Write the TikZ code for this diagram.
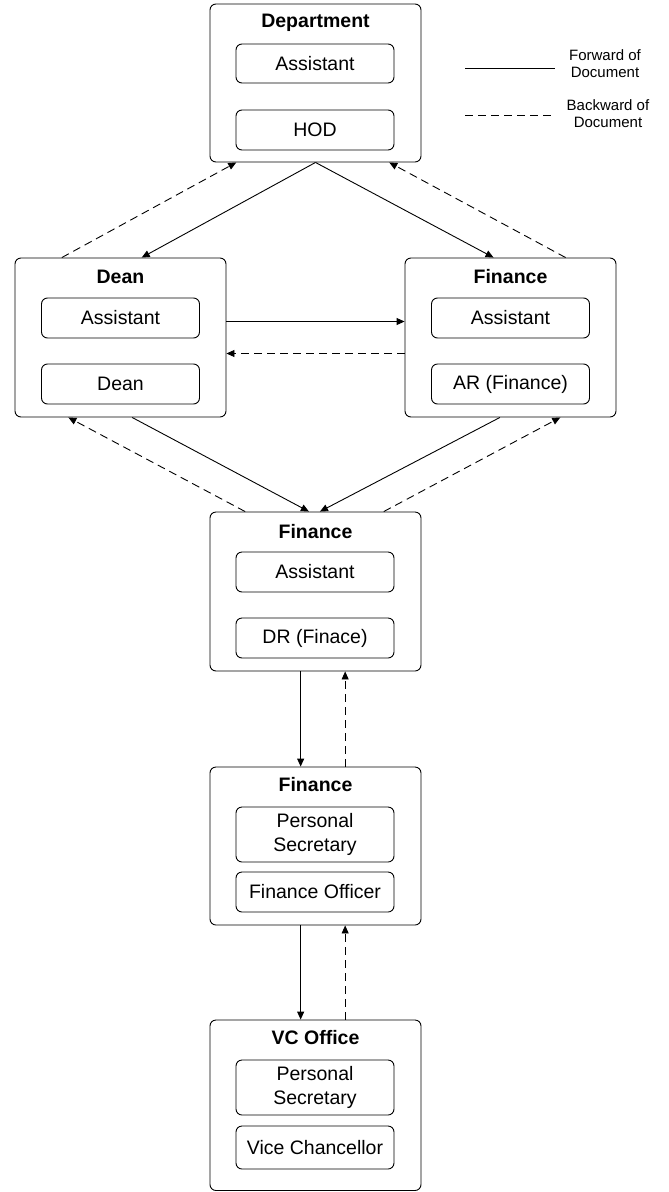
\documentclass[tikz,border=0pt]{standalone}
\usepackage{fontspec}
\setmainfont{Liberation Sans}
\usetikzlibrary{arrows.meta,calc}
\begin{document}
\begin{tikzpicture}[x=1pt,y=-1pt,
  outer/.style={draw,rounded corners=6pt,line width=0.9pt,minimum width=211pt,inner sep=0pt},
  inbox/.style={draw,rounded corners=6pt,line width=0.9pt,minimum width=158pt,inner sep=0pt,align=center,font=\fontsize{19.5}{24}\selectfont},
  ttl/.style={font=\bfseries\fontsize{19.5}{24}\selectfont,inner sep=0pt},
  legtext/.style={align=center,font=\fontsize{15}{17}\selectfont,inner sep=0pt},
  fwd/.style={line width=0.9pt,-{Triangle[length=8pt,width=7pt]}},
  bwd/.style={line width=0.9pt,dash pattern=on 8pt off 5pt,-{Triangle[length=8pt,width=7pt]}},
]
\useasboundingbox (0,0) rectangle (669,1192);

% Department
\node[outer,minimum height=158pt] (dept) at (315.5,83) {};
\node[ttl] (deptT) at (315.5,23) {Department};
\node[inbox,minimum height=39pt] (deptA) at (315,63.5) {Assistant};
\node[inbox,minimum height=40pt] (deptH) at (315,130) {HOD};

% Dean
\node[outer,minimum height=159pt] (deanB) at (120.5,337.5) {};
\node[ttl] (deanT) at (120.5,277) {Dean};
\node[inbox,minimum height=40pt] (deanA) at (120.5,318) {Assistant};
\node[inbox,minimum height=40pt] (deanD) at (120.5,384) {Dean};

% Finance right
\node[outer,minimum height=159pt] (finR) at (510.5,337.5) {};
\node[ttl] (finRT) at (510.5,277) {Finance};
\node[inbox,minimum height=40pt] (finRA) at (510.5,318) {Assistant};
\node[inbox,minimum height=40pt] (finRAR) at (510.5,384) {AR (Finance)};

% Finance middle
\node[outer,minimum height=159pt] (finM) at (315.5,591.5) {};
\node[ttl] (finMT) at (315.5,532) {Finance};
\node[inbox,minimum height=40pt] (finMA) at (315,572) {Assistant};
\node[inbox,minimum height=40pt] (finMD) at (315,638) {DR (Finace)};

% Finance 4
\node[outer,minimum height=158pt] (fin4) at (315.5,846) {};
\node[ttl] (fin4T) at (315.5,785) {Finance};
\node[inbox,minimum height=55pt] (fin4P) at (315,834.5) {Personal\\Secretary};
\node[inbox,minimum height=40pt] (fin4F) at (315,892) {Finance Officer};

% VC Office
\node[outer,minimum height=170.5pt] (vc) at (315.5,1105.25) {};
\node[ttl] (vcT) at (315.5,1038) {VC Office};
\node[inbox,minimum height=55pt] (vcP) at (315,1087.5) {Personal\\Secretary};
\node[inbox,minimum height=43pt] (vcV) at (315,1147.5) {Vice Chancellor};

% Legend
\coordinate (l1a) at (465,68);
\coordinate (l1b) at (555,68);
\coordinate (l2a) at (465,115);
\coordinate (l2b) at (555,115);
\draw[line width=0.9pt] (l1a) -- (l1b);
\draw[line width=0.9pt,dash pattern=on 8pt off 5pt] (l2a) -- (l2b);
\node[legtext] (legF) at (605,63.5) {Forward of\\Document};
\node[legtext] (legB) at (608,114) {Backward of\\Document};

% Connectors
\draw[fwd] (dept.south) -- ($(deanB.north west)!0.6!(deanB.north east)$);
\draw[fwd] (dept.south) -- ($(finR.north west)!0.42!(finR.north east)$);
\draw[bwd] ($(deanB.north west)!0.223!(deanB.north east)$) -- ($(dept.south west)!0.126!(dept.south east)$);
\draw[bwd] ($(finR.north west)!0.76!(finR.north east)$) -- ($(dept.south west)!0.848!(dept.south east)$);

\draw[fwd] ($(deanB.north east)!0.4!(deanB.south east)$) -- ($(finR.north west)!0.4!(finR.south west)$);
\draw[bwd] ($(finR.north west)!0.6!(finR.south west)$) -- ($(deanB.north east)!0.6!(deanB.south east)$);

\draw[fwd] ($(deanB.south west)!0.555!(deanB.south east)$) -- ($(finM.north west)!0.469!(finM.north east)$);
\draw[fwd] ($(finR.south west)!0.45!(finR.south east)$) -- ($(finM.north west)!0.521!(finM.north east)$);
\draw[bwd] ($(finM.north west)!0.168!(finM.north east)$) -- ($(deanB.south west)!0.254!(deanB.south east)$);
\draw[bwd] ($(finM.north west)!0.822!(finM.north east)$) -- ($(finR.south west)!0.735!(finR.south east)$);

\draw[fwd] ($(finM.south west)!0.43!(finM.south east)$) -- ($(fin4.north west)!0.43!(fin4.north east)$);
\draw[bwd] ($(fin4.north west)!0.64!(fin4.north east)$) -- ($(finM.south west)!0.64!(finM.south east)$);
\draw[fwd] ($(fin4.south west)!0.43!(fin4.south east)$) -- ($(vc.north west)!0.43!(vc.north east)$);
\draw[bwd] ($(vc.north west)!0.64!(vc.north east)$) -- ($(fin4.south west)!0.64!(fin4.south east)$);
\end{tikzpicture}
\end{document}
